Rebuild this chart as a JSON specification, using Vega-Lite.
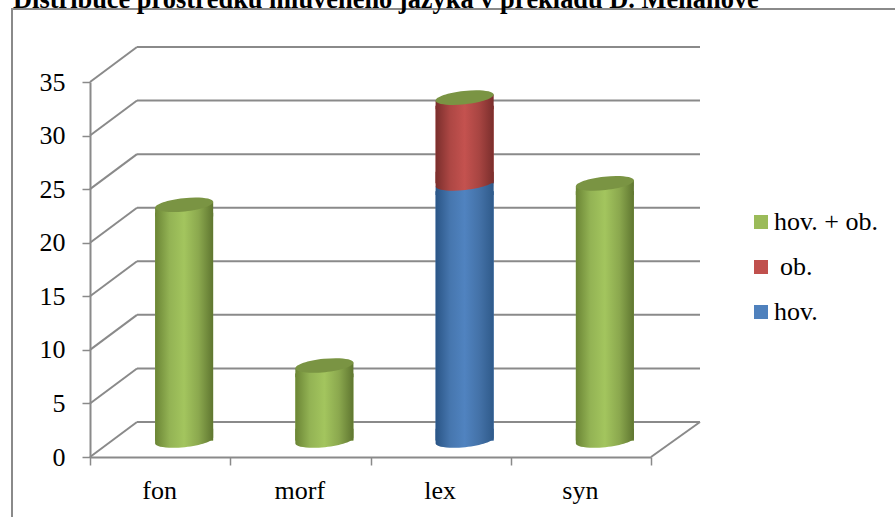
{
  "$schema": "https://vega.github.io/schema/vega-lite/v6.json",
  "width": 900,
  "height": 520,
  "autosize": "none",
  "padding": {"left": 12, "top": 9, "right": 0, "bottom": 0},
  "background": "white",
  "view": {"stroke": "#8a8a8a", "strokeWidth": 2, "fill": "white"},
  "title": {
    "text": "Distribuce prostředků mluveného jazyka v překladu D. Mellanové",
    "anchor": "start",
    "frame": "group",
    "font": "Liberation Serif",
    "fontSize": 26.4,
    "fontWeight": "bold",
    "color": "black",
    "offset": -25,
    "dx": 1,
    "baseline": "alphabetic"
  },
  "datasets": {
    "skupiny": [
      {"kat": "fon", "serie": "hov. + ob.", "pocet": 22},
      {"kat": "morf", "serie": "hov. + ob.", "pocet": 7},
      {"kat": "lex", "serie": "hov.", "pocet": 24},
      {"kat": "lex", "serie": "ob.", "pocet": 8},
      {"kat": "syn", "serie": "hov. + ob.", "pocet": 24}
    ],
    "mrizka": [{"v": 0}, {"v": 5}, {"v": 10}, {"v": 15}, {"v": 20}, {"v": 25}, {"v": 30}, {"v": 35}]
  },
  "resolve": {"scale": {"x": "independent"}},
  "layer": [
    {
      "data": {"name": "mrizka"},
      "layer": [
        {
          "mark": {"type": "rule", "color": "#8a8a8a", "strokeWidth": 2, "xOffset": 47, "x2Offset": 49, "yOffset": -35, "y2Offset": -35},
          "encoding": {
            "x": {"datum": 0, "type": "quantitative", "scale": {"domain": [0, 4], "range": [78, 639]}, "axis": null},
            "x2": {"datum": 4},
            "y": {"field": "v", "type": "quantitative", "scale": {"domain": [0, 35], "range": [448, 73], "nice": false},
              "axis": {"orient": "left", "offset": -78, "values": [0, 5, 10, 15, 20, 25, 30, 35], "title": null, "grid": false,
                "domainColor": "#8a8a8a", "domainWidth": 2, "tickColor": "#8a8a8a", "tickWidth": 1.5, "tickSize": 8,
                "labelFont": "Liberation Serif", "labelFontSize": 26, "labelColor": "black", "labelPadding": 17}},
            "y2": {"field": "v"}
          }
        },
        {
          "mark": {"type": "rule", "color": "#8a8a8a", "strokeWidth": 2, "xOffset": 0, "x2Offset": 47, "yOffset": 0, "y2Offset": -35},
          "encoding": {
            "x": {"datum": 0, "type": "quantitative"},
            "x2": {"datum": 0},
            "y": {"field": "v", "type": "quantitative"},
            "y2": {"field": "v"}
          }
        },
        {
          "transform": [{"filter": "datum.v === 0"}],
          "mark": {"type": "rule", "color": "#8a8a8a", "strokeWidth": 2, "xOffset": 0, "x2Offset": 49, "yOffset": 0, "y2Offset": -35},
          "encoding": {
            "x": {"datum": 4, "type": "quantitative"},
            "x2": {"datum": 4},
            "y": {"field": "v", "type": "quantitative"},
            "y2": {"field": "v"}
          }
        }
      ]
    },
    {
      "data": {"name": "skupiny"},
      "transform": [
        {"stack": "pocet", "groupby": ["kat"], "sort": [{"field": "serie", "order": "ascending"}], "as": ["od", "do"]}
      ],
      "encoding": {
        "x": {"field": "kat", "type": "nominal", "sort": null,
          "scale": {"domain": ["fon", "morf", "lex", "syn"], "range": [78, 639], "paddingInner": 0, "paddingOuter": 0},
          "axis": {"orient": "bottom", "offset": -72, "title": null, "grid": false, "labelAngle": 0, "tickBand": "extent",
            "domainColor": "#8a8a8a", "domainWidth": 2, "tickColor": "#8a8a8a", "tickWidth": 1.5, "tickSize": 8,
            "labelFont": "Liberation Serif", "labelFontSize": 26, "labelColor": "black", "labelPadding": 12, "labelOffset": -1}}
      },
      "layer": [
        {
          "mark": {"type": "bar", "width": 58, "xOffset": 24, "yOffset": -16.5, "y2Offset": -8.5},
          "encoding": {
            "y": {"field": "od", "type": "quantitative"},
            "y2": {"field": "do"},
            "color": {"field": "serie", "type": "nominal",
              "scale": {"domain": ["hov. + ob.", "ob.", "hov."], "range": ["#9bbb59", "#c0504d", "#4f81bd"]},
              "legend": {"orient": "none", "legendX": 736, "legendY": 200, "title": null, "symbolType": "square", "symbolSize": 196,
                "symbolStrokeWidth": 0, "symbolOpacity": 1, "padding": 0, "rowPadding": 19,
                "labelFont": "Liberation Serif", "labelFontSize": 26, "labelColor": "black", "labelOffset": 0,
                "encode": {"labels": {"update": {"dx": {"signal": "datum.value === 'ob.' ? 6 : 0"}}}}}}
          }
        },
        {
          "transform": [{"filter": "datum.serie === 'hov.'"}],
          "layer": [
            {"mark": {"type": "point", "filled": true, "opacity": 1, "size": 3410, "xOffset": 24, "yOffset": -16.5,
                "shape": "M-0.9945,0.1045 A1,0.23,-6,0,0,0.9945,-0.1045 L0.9945,-0.4 L-0.9945,-0.4 Z",
                "fill": {"gradient": "linear", "x1": 0, "x2": 1, "y1": 0, "y2": 0, "stops": [{"offset": 0, "color": "#2a5586"}, {"offset": 0.25, "color": "#4676ae"}, {"offset": 0.5, "color": "#5083c0"}, {"offset": 0.75, "color": "#4472a8"}, {"offset": 1, "color": "#2f5a8a"}]}},
              "encoding": {"y": {"field": "od", "type": "quantitative"}}},
            {"mark": {"type": "bar", "width": 58, "xOffset": 24, "yOffset": -16.5, "y2Offset": -8.5,
                "fill": {"gradient": "linear", "x1": 0, "x2": 1, "y1": 0, "y2": 0, "stops": [{"offset": 0, "color": "#2a5586"}, {"offset": 0.25, "color": "#4676ae"}, {"offset": 0.5, "color": "#5083c0"}, {"offset": 0.75, "color": "#4472a8"}, {"offset": 1, "color": "#2f5a8a"}]}},
              "encoding": {"y": {"field": "od", "type": "quantitative"}, "y2": {"field": "do"}}},
            {"mark": {"type": "point", "filled": true, "opacity": 1, "size": 3410, "xOffset": 24, "yOffset": -16.5,
                "shape": "M-0.9945,0.1045 L0.9945,-0.1045 L0.9945,0.4 L-0.9945,0.4 Z",
                "fill": {"gradient": "linear", "x1": 0, "x2": 1, "y1": 0, "y2": 0, "stops": [{"offset": 0, "color": "#2a5586"}, {"offset": 0.25, "color": "#4676ae"}, {"offset": 0.5, "color": "#5083c0"}, {"offset": 0.75, "color": "#4472a8"}, {"offset": 1, "color": "#2f5a8a"}]}},
              "encoding": {"y": {"field": "do", "type": "quantitative"}}}
          ]
        },
        {
          "transform": [{"filter": "datum.serie === 'ob.'"}],
          "layer": [
            {"mark": {"type": "point", "filled": true, "opacity": 1, "size": 3410, "xOffset": 24, "yOffset": -16.5,
                "shape": "M-0.9945,0.1045 A1,0.23,-6,0,0,0.9945,-0.1045 L0.9945,-0.4 L-0.9945,-0.4 Z",
                "fill": {"gradient": "linear", "x1": 0, "x2": 1, "y1": 0, "y2": 0, "stops": [{"offset": 0, "color": "#7a2e2c"}, {"offset": 0.25, "color": "#ad4744"}, {"offset": 0.5, "color": "#c4524f"}, {"offset": 0.75, "color": "#a84542"}, {"offset": 1, "color": "#7a2e2c"}]}},
              "encoding": {"y": {"field": "od", "type": "quantitative"}}},
            {"mark": {"type": "bar", "width": 58, "xOffset": 24, "yOffset": -16.5, "y2Offset": -8.5,
                "fill": {"gradient": "linear", "x1": 0, "x2": 1, "y1": 0, "y2": 0, "stops": [{"offset": 0, "color": "#7a2e2c"}, {"offset": 0.25, "color": "#ad4744"}, {"offset": 0.5, "color": "#c4524f"}, {"offset": 0.75, "color": "#a84542"}, {"offset": 1, "color": "#7a2e2c"}]}},
              "encoding": {"y": {"field": "od", "type": "quantitative"}, "y2": {"field": "do"}}},
            {"mark": {"type": "point", "filled": true, "opacity": 1, "size": 3410, "xOffset": 24, "yOffset": -16.5,
                "shape": "M-0.9945,0.1045 L0.9945,-0.1045 L0.9945,0.4 L-0.9945,0.4 Z",
                "fill": {"gradient": "linear", "x1": 0, "x2": 1, "y1": 0, "y2": 0, "stops": [{"offset": 0, "color": "#7a2e2c"}, {"offset": 0.25, "color": "#ad4744"}, {"offset": 0.5, "color": "#c4524f"}, {"offset": 0.75, "color": "#a84542"}, {"offset": 1, "color": "#7a2e2c"}]}},
              "encoding": {"y": {"field": "do", "type": "quantitative"}}}
          ]
        },
        {
          "transform": [{"filter": "datum.serie === 'hov. + ob.'"}],
          "layer": [
            {"mark": {"type": "point", "filled": true, "opacity": 1, "size": 3410, "xOffset": 24, "yOffset": -16.5,
                "shape": "M-0.9945,0.1045 A1,0.23,-6,0,0,0.9945,-0.1045 L0.9945,-0.4 L-0.9945,-0.4 Z",
                "fill": {"gradient": "linear", "x1": 0, "x2": 1, "y1": 0, "y2": 0, "stops": [{"offset": 0, "color": "#6b8535"}, {"offset": 0.25, "color": "#93b354"}, {"offset": 0.5, "color": "#a3c55e"}, {"offset": 0.75, "color": "#8ba84e"}, {"offset": 1, "color": "#5f7630"}]}},
              "encoding": {"y": {"field": "od", "type": "quantitative"}}},
            {"mark": {"type": "bar", "width": 58, "xOffset": 24, "yOffset": -16.5, "y2Offset": -8.5,
                "fill": {"gradient": "linear", "x1": 0, "x2": 1, "y1": 0, "y2": 0, "stops": [{"offset": 0, "color": "#6b8535"}, {"offset": 0.25, "color": "#93b354"}, {"offset": 0.5, "color": "#a3c55e"}, {"offset": 0.75, "color": "#8ba84e"}, {"offset": 1, "color": "#5f7630"}]}},
              "encoding": {"y": {"field": "od", "type": "quantitative"}, "y2": {"field": "do"}}},
            {"mark": {"type": "point", "filled": true, "opacity": 1, "size": 3410, "xOffset": 24, "yOffset": -16.5,
                "shape": "M-0.9945,0.1045 L0.9945,-0.1045 L0.9945,0.4 L-0.9945,0.4 Z",
                "fill": {"gradient": "linear", "x1": 0, "x2": 1, "y1": 0, "y2": 0, "stops": [{"offset": 0, "color": "#6b8535"}, {"offset": 0.25, "color": "#93b354"}, {"offset": 0.5, "color": "#a3c55e"}, {"offset": 0.75, "color": "#8ba84e"}, {"offset": 1, "color": "#5f7630"}]}},
              "encoding": {"y": {"field": "do", "type": "quantitative"}}}
          ]
        },
        {
          "transform": [{"filter": "datum.serie !== 'hov.'"}],
          "mark": {"type": "point", "filled": true, "opacity": 1, "size": 3410, "xOffset": 24, "yOffset": -16.5, "color": "#7a9443",
            "shape": "M-0.9945,0.1045 A1,0.23,-6,0,1,0.9945,-0.1045 A1,0.23,-6,0,1,-0.9945,0.1045 Z"},
          "encoding": {"y": {"field": "do", "type": "quantitative"}}
        }
      ]
    }
  ]
}
